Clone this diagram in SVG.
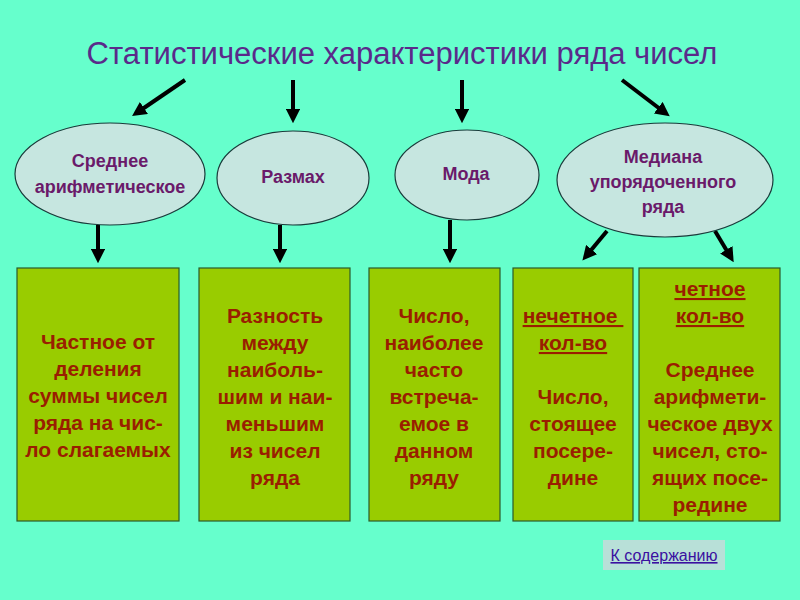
<svg xmlns="http://www.w3.org/2000/svg" width="800" height="600" viewBox="0 0 800 600">
<defs>
<marker id="ah" viewBox="0 0 10 10" refX="5" refY="5" markerWidth="3.6" markerHeight="3.6" orient="auto"><path d="M0,0 L10,5 L0,10 z" fill="#000"/></marker>
<style>
.e{fill:#c6e6e0;stroke:#1a3a3a;stroke-width:1.2}
.et{font-family:"Liberation Sans",Arial,sans-serif;font-weight:bold;font-size:18px;fill:#6a1a6a;text-anchor:middle}
.b{fill:#99cc00;stroke:#2a5a2a;stroke-width:1.2}
.bt{font-family:"Liberation Sans",Arial,sans-serif;font-weight:bold;font-size:21px;fill:#9a1e00;text-anchor:middle}
.c line{stroke:#000;stroke-width:4;marker-end:url(#ah)}
</style>
</defs>
<rect width="800" height="600" fill="#66ffcc"/>
<text x="402" y="64" font-family="Liberation Sans,Arial,sans-serif" font-size="31" fill="#5a2a8a" text-anchor="middle">Статистические характеристики ряда чисел</text>
<g class="c">
<line x1="185" y1="80" x2="138" y2="112"/>
<line x1="293" y1="80" x2="293" y2="116"/>
<line x1="462" y1="80" x2="462" y2="116"/>
<line x1="622" y1="80" x2="664" y2="112"/>
<line x1="98" y1="225" x2="98" y2="256"/>
<line x1="280" y1="225" x2="280" y2="256"/>
<line x1="450" y1="220" x2="450" y2="256"/>
<line x1="607" y1="231" x2="587" y2="255"/>
<line x1="715" y1="231" x2="730" y2="256"/>
</g>
<g id="n1"><ellipse class="e" cx="110" cy="174" rx="95" ry="51"/><text class="et" x="110" y="167">Среднее</text><text class="et" x="110" y="193">арифметическое</text></g>
<g id="n2"><ellipse class="e" cx="293" cy="178" rx="76" ry="47"/><text class="et" x="293" y="183">Размах</text></g>
<g id="n3"><ellipse class="e" cx="467" cy="175" rx="72" ry="45"/><text class="et" x="466" y="180">Мода</text></g>
<g id="n4"><ellipse class="e" cx="665" cy="180" rx="108" ry="57"/><text class="et" x="663" y="163">Медиана</text><text class="et" x="663" y="188">упорядоченного</text><text class="et" x="663" y="213">ряда</text></g>
<g id="b1"><rect class="b" x="17" y="268" width="162" height="253"/>
<text class="bt"><tspan x="98" y="349">Частное от</tspan><tspan x="98" y="376">деления</tspan><tspan x="98" y="403">суммы чисел</tspan><tspan x="98" y="430">ряда на чис-</tspan><tspan x="98" y="457">ло слагаемых</tspan></text></g>
<g id="b2"><rect class="b" x="199" y="268" width="151" height="253"/>
<text class="bt"><tspan x="275" y="323">Разность</tspan><tspan x="275" y="350">между</tspan><tspan x="275" y="377">наиболь-</tspan><tspan x="275" y="404">шим и наи-</tspan><tspan x="275" y="431">меньшим</tspan><tspan x="275" y="458">из чисел</tspan><tspan x="275" y="485">ряда</tspan></text></g>
<g id="b3"><rect class="b" x="369" y="268" width="131" height="253"/>
<text class="bt"><tspan x="434" y="323">Число,</tspan><tspan x="434" y="350">наиболее</tspan><tspan x="434" y="377">часто</tspan><tspan x="434" y="404">встреча-</tspan><tspan x="434" y="431">емое в</tspan><tspan x="434" y="458">данном</tspan><tspan x="434" y="485">ряду</tspan></text></g>
<g id="b4"><rect class="b" x="513" y="268" width="120" height="253"/>
<text class="bt" text-decoration="underline"><tspan x="573" y="323">нечетное </tspan><tspan x="573" y="350">кол-во</tspan></text>
<text class="bt"><tspan x="573" y="404">Число,</tspan><tspan x="573" y="431">стоящее</tspan><tspan x="573" y="458">посере-</tspan><tspan x="573" y="485">дине</tspan></text></g>
<g id="b5"><rect class="b" x="639" y="268" width="141" height="253"/>
<text class="bt" text-decoration="underline"><tspan x="710" y="296">четное</tspan><tspan x="710" y="323">кол-во</tspan></text>
<text class="bt"><tspan x="710" y="377">Среднее</tspan><tspan x="710" y="404">арифмети-</tspan><tspan x="710" y="431">ческое двух</tspan><tspan x="710" y="458">чисел, сто-</tspan><tspan x="710" y="485">ящих посе-</tspan><tspan x="710" y="512">редине</tspan></text></g>
<g id="link"><rect x="603" y="540" width="122" height="30" fill="#b8e0d8"/>
<text x="664" y="561" font-family="Liberation Sans,Arial,sans-serif" font-size="16" fill="#3a10a0" text-anchor="middle" text-decoration="underline">К содержанию</text></g>
</svg>
